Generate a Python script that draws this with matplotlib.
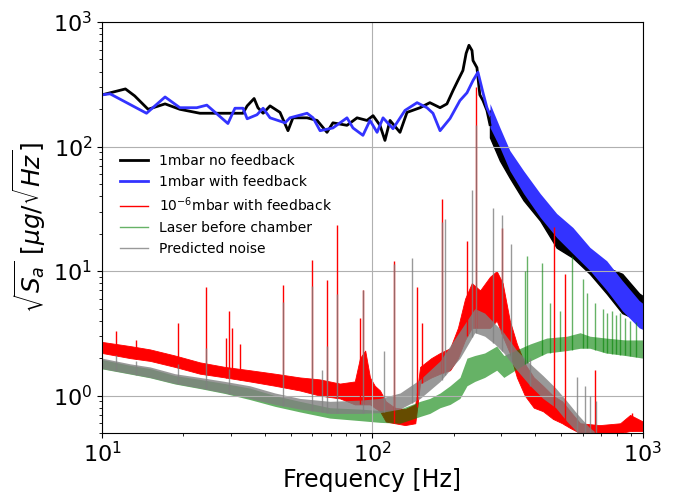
import numpy as np
import matplotlib
matplotlib.use('Agg')
import matplotlib.pyplot as plt
from matplotlib.lines import Line2D

# 1mbar no feedback (line up to the resonance, noisy band after it)
f_black = [10, 12.2, 13.2, 14.8, 17.1, 19.4, 23.0, 27.3, 33.2, 34.4, 36.5, 37.7, 39.4, 41.8,
           45.5, 48.7, 50.8, 57.3, 62.4, 67.9, 71.4, 80.5, 87.7, 95.4, 100.5, 106.6, 111.2,
           116.1, 126.4, 134.2, 150, 163, 177.8, 188.5, 198.6, 207, 216, 222, 227.4, 233.4,
           235.4, 243.4, 249.5, 256.3, 265, 272]
v_black = [260, 290, 255, 199, 220, 199, 185, 185, 185, 212, 243, 205, 185, 212,
           188, 134, 170, 170, 162, 130, 155, 148, 170, 162, 177, 148, 112,
           162, 130, 188, 205, 225, 205, 220, 282, 339, 408, 560, 650, 590,
           490, 430, 260, 234, 195, 150]
f_black_band = [272, 296, 322, 362, 417, 480, 551, 637, 735, 839, 969, 1000]
black_lo = [118, 77, 56, 37, 25.4, 15.4, 12.8, 9.5, 6.6, 4.6, 4.0, 3.9]
black_hi = [195, 118, 77, 53, 32.5, 25.4, 17.6, 12.1, 10.7, 9.5, 6.6, 6.3]

# 1mbar with feedback
f_blue = [10, 10.7, 14.6, 17.1, 19.4, 22.4, 24.4, 26.2, 29.2, 31.0, 33.2, 34.4, 37.4,
          39.4, 41.8, 47.5, 49.5, 57.3, 60.3, 64.0, 71.4, 80.5, 84.7, 92.2, 97.9, 104,
          109.4, 119.1, 131.9, 146.2, 159, 167.4, 177.8, 193.6, 210.6, 223.6, 235.4, 245.5,
          256.3, 265, 272]
v_blue = [260, 265, 185, 250, 205, 205, 215, 188, 153, 203, 203, 167, 180,
          203, 170, 155, 170, 185, 170, 134, 141, 170, 141, 123, 162, 130,
          170, 139, 195, 225, 205, 185, 134, 168, 234, 270, 339, 395,
          270, 205, 180]
f_blue_band = [272, 296, 322, 362, 417, 480, 551, 637, 735, 839, 969, 1000]
blue_lo = [142, 98, 64, 42, 27, 18.6, 13.8, 10.1, 7.0, 4.8, 3.5, 3.4]
blue_hi = [221, 142, 93, 64, 42, 29, 22.4, 15.5, 12.1, 8.4, 5.8, 5.5]

# 1e-6 mbar with feedback: noise band and spikes
f_red = [10, 12.7, 15.05, 18.6, 23.0, 28.5, 35.2, 43.6, 53.9, 63.9, 75.8, 86, 89.9, 94,
         97.9, 102, 106.6, 112, 121, 132, 144, 150, 165, 177.8, 193.6, 207, 220, 233,
         250, 272, 288, 303, 322, 342, 366, 395, 427, 465, 503, 538, 586, 693, 824, 897, 1000]
red_lo = [2.2, 2.0, 1.9, 1.7, 1.5, 1.4, 1.3, 1.2, 1.1, 1.0, 0.95, 0.85, 0.85, 0.85,
          0.85, 0.8, 0.75, 0.62, 0.6, 0.58, 0.6, 1.25, 1.4, 1.5, 1.6, 2.0, 2.8, 3.5,
          3.5, 3.5, 4.0, 3.0, 2.2, 1.4, 1.0, 0.8, 0.75, 0.65, 0.6, 0.55, 0.5, 0.5, 0.5, 0.52, 0.52]
red_hi = [2.7, 2.5, 2.35, 2.1, 1.85, 1.7, 1.6, 1.5, 1.4, 1.35, 1.25, 1.3, 2.0, 2.3,
          1.4, 1.2, 1.1, 0.9, 0.8, 0.78, 0.85, 1.7, 2.0, 2.2, 2.4, 3.5, 6.0, 8.0,
          7.0, 9.0, 10.0, 8.0, 4.0, 2.6, 1.8, 1.4, 1.2, 1.0, 0.9, 0.75, 0.6, 0.58, 0.6, 0.7, 0.62]
red_spike_f = [11.3, 13.4, 19.1, 24.3, 28.7, 29.5, 30.3, 32.4, 46.5, 59.9, 68, 74, 89.9,
               92.2, 120, 146, 152, 180, 224, 241.5, 301, 469, 515, 665, 910]
red_spike_v = [3.33, 2.8, 3.8, 7.4, 2.9, 4.8, 3.5, 2.6, 7.8, 12.3, 8.5, 23.6, 4.2,
               7.1, 12.1, 7.4, 3.8, 38, 17.6, 300, 22, 22.4, 9.5, 1.6, 0.73]

# laser before chamber
f_green = [10, 12.7, 15.05, 18.6, 23.0, 28.5, 35.2, 43.6, 53.9, 69.6, 89.9, 106.6, 126.4,
           150, 163, 177.8, 193.6, 210.6, 223.6, 239, 260, 288, 306, 337, 383, 441,
           524, 586, 637, 729, 860, 1000]
green_lo = [1.64, 1.49, 1.39, 1.24, 1.14, 1.04, 0.93, 0.82, 0.74, 0.66, 0.63, 0.61, 0.6,
            0.68, 0.72, 0.8, 0.85, 0.95, 1.2, 1.3, 1.4, 1.6, 1.4, 1.6, 1.9, 2.2,
            2.3, 2.4, 2.4, 2.2, 2.1, 2.0]
green_hi = [1.95, 1.75, 1.65, 1.45, 1.35, 1.25, 1.15, 1.0, 0.9, 0.8, 0.78, 0.76, 0.78,
            0.9, 0.95, 1.05, 1.2, 1.4, 2.0, 2.1, 2.2, 2.5, 2.1, 2.3, 2.6, 2.9,
            3.0, 3.2, 3.0, 2.9, 2.8, 2.8]
green_spike_f = [366, 372.6, 423, 453, 493, 546.5, 600, 620, 668, 711, 735, 768, 795,
                 824, 860, 895, 940]
green_spike_v = [10, 13.3, 11.7, 5.5, 4.8, 13.3, 8.7, 6.7, 5.5, 5.0, 4.6, 4.8, 4.4,
                 4.6, 4.2, 4.0, 3.9]

# predicted noise
f_gray = [10, 12.7, 15.05, 18.6, 23.0, 28.5, 35.2, 43.6, 53.9, 69.6, 89.9, 106.6, 126.4,
          150, 177.8, 210.6, 239, 260, 283, 306, 342, 383, 427, 476, 524, 576, 637, 693]
gray_lo = [1.65, 1.5, 1.4, 1.25, 1.15, 1.05, 0.95, 0.85, 0.78, 0.72, 0.72, 0.73, 0.78,
           0.95, 1.3, 2.0, 3.2, 3.0, 2.6, 2.2, 1.6, 1.2, 0.95, 0.8, 0.62, 0.5, 0.45, 0.4]
gray_hi = [2.0, 1.8, 1.7, 1.5, 1.4, 1.3, 1.2, 1.05, 0.95, 0.9, 0.92, 0.95, 1.05,
           1.35, 1.9, 3.3, 5.0, 4.6, 3.8, 3.2, 2.3, 1.8, 1.45, 1.15, 0.9, 0.7, 0.55, 0.48]
gray_spike_f = [11.3, 13.4, 19.1, 24.3, 29.5, 46.5, 59.9, 65, 68, 74, 92.2, 110, 120,
                140, 180, 185, 233, 241.5, 279, 301, 325, 383, 570, 610, 637, 670]
gray_spike_v = [2.1, 1.9, 1.8, 2.4, 1.65, 5.6, 7.6, 1.6, 2.5, 6.6, 7.0, 2.3, 11.5,
                12.8, 25, 26, 45, 150, 32, 28, 16.6, 2.0, 1.4, 1.2, 1.0, 0.9]

labels = ['1mbar no feedback', '1mbar with feedback', r'$10^{-6}$mbar with feedback',
          'Laser before chamber', 'Predicted noise']

blue = '#3333ff'

fig = plt.figure(figsize=(6.76, 4.95), dpi=100)
ax = fig.add_axes([0.151, 0.125, 0.8, 0.8306])

ax.plot(f_black, v_black, color='k', lw=2)
ax.fill_between(f_black_band, black_lo, black_hi, color='k', lw=1)
ax.plot(f_blue, v_blue, color=blue, lw=2)
ax.fill_between(f_blue_band, blue_lo, blue_hi, color=blue, lw=0)

ax.fill_between(f_red, red_lo, red_hi, color='r', lw=0.6, edgecolor='r')
ax.vlines(red_spike_f, np.interp(red_spike_f, f_red, red_lo), red_spike_v, color='r', lw=1)

ax.fill_between(f_green, green_lo, green_hi, color='g', alpha=0.6, lw=0)
ax.vlines(green_spike_f, np.interp(green_spike_f, f_green, green_lo), green_spike_v,
          color='g', alpha=0.6, lw=1)

ax.fill_between(f_gray, gray_lo, gray_hi, color='gray', alpha=0.8, lw=0)
ax.vlines(gray_spike_f, np.interp(gray_spike_f, f_gray, gray_lo), gray_spike_v,
          color='gray', alpha=0.8, lw=1)

ax.set_xscale('log')
ax.set_yscale('log')
ax.set_xlim(10, 1000)
ax.set_ylim(0.5, 1000)
ax.grid(True, which='major', color='#b0b0b0', lw=0.8)
ax.tick_params(labelsize=16)
ax.tick_params(axis='x', pad=2.5)
ax.set_xlabel('Frequency [Hz]', fontsize=17, labelpad=1)
ax.set_ylabel(r'$\sqrt{S_a}$ $[\mu g/\sqrt{Hz}]$', fontsize=18)

handles = [Line2D([], [], color='k', lw=2),
           Line2D([], [], color=blue, lw=2),
           Line2D([], [], color='r', lw=1),
           Line2D([], [], color='g', alpha=0.6, lw=1),
           Line2D([], [], color='gray', alpha=0.8, lw=1)]
ax.legend(handles, labels, loc='center left', bbox_to_anchor=(0.01, 0.555),
          frameon=False, fontsize=10)

fig.savefig('out.png', dpi=100)
